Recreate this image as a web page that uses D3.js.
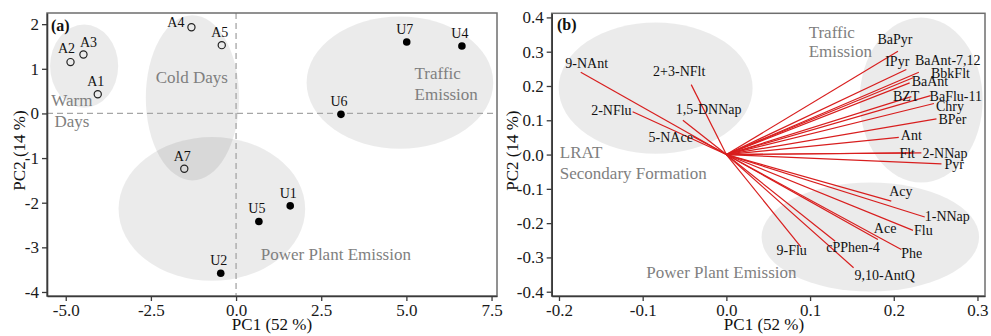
<!DOCTYPE html>
<html>
<head>
<meta charset="utf-8">
<script src="https://cdn.jsdelivr.net/npm/d3@7"></script>
<style>
  html, body { margin: 0; padding: 0; background: #fff; }
  svg { display: block; font-family: "Liberation Serif", "Times New Roman", serif; }
</style>
</head>
<body>
<div id="chart"></div>
<script>
// (a) sample scores
const scoreNames = ['A1', 'A2', 'A3', 'A4', 'A5', 'A7', 'U1', 'U2', 'U4', 'U5', 'U6', 'U7'];
const scorePC1 = [-4.06, -4.86, -4.48, -1.31, -0.42, -1.52, 1.59, -0.45, 6.63, 0.67, 3.08, 5.01];
const scorePC2 = [0.43, 1.15, 1.32, 1.93, 1.53, -1.24, -2.07, -3.58, 1.51, -2.42, -0.02, 1.60];

// (a) source regions (data units)
const regionNamesA = [['Warm', 'Days'], ['Cold Days'], ['Traffic', 'Emission'], ['Power Plant Emission']];
const regionCxA = [-4.46, -1.28, 4.81, -0.71];
const regionCyA = [1.06, 0.35, 0.69, -2.14];
const regionRxA = [1.0, 1.37, 2.74, 2.74];
const regionRyA = [0.93, 1.85, 1.48, 1.61];
const regionTextXA = [-4.82, -1.30, 5.24, 0.725];
const regionTextYA = [0.157, 0.687, 0.761, -3.29];

// (b) loadings
const loadNames = ['9-NAnt', '2-NFlu', '2+3-NFlt', '1,5-DNNap', '5-NAce',
  'BaPyr', 'IPyr', 'BaAnt-7,12', 'BbkFlt', 'BaAnt', 'BZT', 'BaFlu-11', 'Chry', 'BPer',
  'Ant', 'Flt', '2-NNap', 'Pyr',
  'Acy', '1-NNap', 'Flu', 'Ace', 'Phe', '9,10-AntQ', 'cPPhen-4', '9-Flu'];
const loadPC1 = [-0.174, -0.112, -0.042, -0.052, -0.040,
  0.205, 0.215, 0.230, 0.223, 0.219, 0.221, 0.244, 0.248, 0.251,
  0.206, 0.223, 0.233, 0.257,
  0.197, 0.237, 0.223, 0.181, 0.209, 0.152, 0.130, 0.089];
const loadPC2 = [0.240, 0.125, 0.204, 0.100, 0.053,
  0.301, 0.248, 0.240, 0.224, 0.209, 0.169, 0.172, 0.149, 0.104,
  0.050, 0.005, 0.005, -0.027,
  -0.136, -0.182, -0.221, -0.248, -0.277, -0.330, -0.253, -0.269];

// (b) source regions
const regionNamesB = [['LRAT', 'Secondary Formation'], ['Traffic', 'Emission'], ['Power Plant Emission']];
const regionCxB = [-0.0845, 0.2327, 0.172];
const regionCyB = [0.194, 0.159, -0.2405];
const regionRxB = [0.1159, 0.0735, 0.130];
const regionRyB = [0.1915, 0.2405, 0.159];
const regionTextXB = [-0.199, 0.0983, -0.0956];
const regionTextYB = [-0.0096, 0.341, -0.359];

const ticksXA = [-5, -2.5, 0, 2.5, 5, 7.5];
const ticksYA = [-4, -3, -2, -1, 0, 1, 2];
const ticksXB = [-0.2, -0.1, 0.0, 0.1, 0.2, 0.3];
const ticksYB = [-0.4, -0.3, -0.2, -0.1, 0.0, 0.1, 0.2, 0.3, 0.4];

// label nudges in px: [dx, dy, anchor]
const scoreNudge = {
  A2: [-4, -9, 'middle'], A3: [5, -8, 'middle'], A4: [-7, 0, 'end']
};
const loadNudge = {
  '9-NAnt': [6, -4, 'middle'], '2-NFlu': [-1, 3, 'end'], '2+3-NFlt': [-12, -9, 'middle'],
  '1,5-DNNap': [-7, -6, 'start'], '5-NAce': [0, 6, 'end'],
  'BaPyr': [-3, -7, 'middle'], 'IPyr': [3, -4, 'end'], 'BaAnt-7,12': [-4, -7, 'start'],
  'BbkFlt': [18, 0, 'start'], 'BaAnt': [2, 3, 'start'], 'BZT': [8, 4, 'end'],
  'BaFlu-11': [-1, 5, 'start'], 'Chry': [2, 8, 'start'], 'BPer': [2, 5, 'start'],
  'Ant': [2, 3, 'start'], 'Flt': [2, 5, 'end'], '2-NNap': [1, 5, 'start'], 'Pyr': [3, 5, 'start'],
  'Acy': [-2, -5, 'start'], '1-NNap': [0, 4, 'start'], 'Flu': [1, 5, 'start'],
  'Ace': [-4, -7, 'start'], 'Phe': [0, 8, 'start'], '9,10-AntQ': [1, 12, 'start'],
  'cPPhen-4': [-9, 11, 'start'], '9-Flu': [6, 8, 'end']
};

const width = 991, height = 336;
const svg = d3.select('#chart').append('svg').attr('width', width).attr('height', height);

const xA = d3.scaleLinear().domain([-5.55, 7.66]).range([47, 497]);
const yA = d3.scaleLinear().domain([-4.09, 2.25]).range([296, 13]);
const xB = d3.scaleLinear().domain([-0.2087, 0.309]).range([551.7, 985]);
const yB = d3.scaleLinear().domain([-0.4125, 0.412]).range([296, 13.3]);

const regionFill = 'rgba(0,0,0,0.08)';
const regionText = '#7f7f7f';

function frame(x, y) {
  svg.append('rect')
    .attr('x', x.range()[0]).attr('y', y.range()[1])
    .attr('width', x.range()[1] - x.range()[0])
    .attr('height', y.range()[0] - y.range()[1])
    .attr('fill', 'none').attr('stroke', '#6e6e6e').attr('stroke-width', 1.5);
}

function axes(x, y, tx, ty, fx, fy) {
  const gx = svg.append('g').attr('transform', `translate(0,${y.range()[0]})`)
    .call(d3.axisBottom(x).tickValues(tx).tickFormat(fx).tickSize(5).tickSizeOuter(0).tickPadding(3));
  const gy = svg.append('g').attr('transform', `translate(${x.range()[0]},0)`)
    .call(d3.axisLeft(y).tickValues(ty).tickFormat(fy).tickSize(5).tickSizeOuter(0).tickPadding(3));
  [gx, gy].forEach(g => {
    g.attr('font-family', null).attr('font-size', null);
    g.select('.domain').attr('stroke', '#3a3a3a').attr('stroke-width', 1.6);
    g.selectAll('.tick line').attr('stroke', '#3a3a3a').attr('stroke-width', 1.3);
    g.selectAll('.tick text').attr('fill', '#1a1a1a').style('font-size', '17px');
  });
}

function regions(x, y, cx, cy, rx, ry) {
  svg.append('g').selectAll('ellipse')
    .data(cx.map((d, i) => i))
    .enter().append('ellipse')
    .attr('cx', i => x(cx[i]))
    .attr('cy', i => y(cy[i]))
    .attr('rx', i => x(cx[i] + rx[i]) - x(cx[i]))
    .attr('ry', i => y(cy[i] - ry[i]) - y(cy[i]))
    .attr('fill', regionFill);
}

function regionLabels(x, y, names, tx, ty, anchors, gap) {
  names.forEach((lines, i) => {
    const t = svg.append('text')
      .attr('x', x(tx[i])).attr('y', y(ty[i]))
      .attr('text-anchor', anchors[i])
      .attr('fill', regionText).style('font-size', '17px');
    lines.forEach((l, j) => {
      t.append('tspan').attr('x', x(tx[i])).attr('dy', j === 0 ? 0 : gap[i]).text(l);
    });
  });
}

// ---------- panel (a) ----------
regions(xA, yA, regionCxA, regionCyA, regionRxA, regionRyA);

svg.append('line')
  .attr('x1', xA.range()[0]).attr('x2', xA.range()[1])
  .attr('y1', yA(0)).attr('y2', yA(0))
  .attr('stroke', '#a6a6a6').attr('stroke-width', 1.3).attr('stroke-dasharray', '6,4');
svg.append('line')
  .attr('x1', xA(0)).attr('x2', xA(0))
  .attr('y1', yA.range()[1]).attr('y2', yA.range()[0])
  .attr('stroke', '#a6a6a6').attr('stroke-width', 1.3).attr('stroke-dasharray', '6,4');

regionLabels(xA, yA, regionNamesA, regionTextXA, regionTextYA,
  ['middle', 'middle', 'start', 'start'], [21, 0, 20.7, 0]);

frame(xA, yA);
axes(xA, yA, ticksXA, ticksYA, d => d.toFixed(1), d => String(d));

const pts = scoreNames.map((n, i) => ({ name: n, x: scorePC1[i], y: scorePC2[i] }));
svg.append('g').selectAll('circle')
  .data(pts).enter().append('circle')
  .attr('cx', d => xA(d.x)).attr('cy', d => yA(d.y))
  .attr('r', d => d.name[0] === 'A' ? 3.6 : 3.8)
  .attr('fill', d => d.name[0] === 'A' ? 'none' : '#000')
  .attr('stroke', d => d.name[0] === 'A' ? '#222' : 'none')
  .attr('stroke-width', 1.2);

svg.append('g').selectAll('text')
  .data(pts).enter().append('text')
  .attr('x', d => xA(d.x) + (scoreNudge[d.name] || [-2])[0])
  .attr('y', d => yA(d.y) + (scoreNudge[d.name] || [0, -8])[1])
  .attr('text-anchor', d => (scoreNudge[d.name] || [0, 0, 'middle'])[2])
  .attr('fill', '#111').style('font-size', '14px')
  .text(d => d.name);

svg.append('text').attr('x', 51).attr('y', 31)
  .attr('font-weight', 'bold').style('font-size', '16px').attr('fill', '#111').text('(a)');

svg.append('text').attr('x', d3.mean(xA.range())).attr('y', 330)
  .attr('text-anchor', 'middle').style('font-size', '17px').attr('fill', '#111').text('PC1 (52 %)');
svg.append('text').attr('transform', `translate(25,${d3.mean(yA.range()) - 4}) rotate(-90)`)
  .attr('text-anchor', 'middle').style('font-size', '17px').attr('fill', '#111').text('PC2 (14 %)');

// ---------- panel (b) ----------
regions(xB, yB, regionCxB, regionCyB, regionRxB, regionRyB);
regionLabels(xB, yB, regionNamesB, regionTextXB, regionTextYB,
  ['start', 'start', 'start'], [21, 19.5, 0]);

frame(xB, yB);
axes(xB, yB, ticksXB, ticksYB, d => d.toFixed(1), d => d.toFixed(1));

const loads = loadNames.map((n, i) => ({ name: n, x: loadPC1[i], y: loadPC2[i] }));
svg.append('g').selectAll('line')
  .data(loads).enter().append('line')
  .attr('x1', xB(0)).attr('y1', yB(0))
  .attr('x2', d => xB(d.x)).attr('y2', d => yB(d.y))
  .attr('stroke', '#d81e1e').attr('stroke-width', 1.2);

svg.append('g').selectAll('text')
  .data(loads).enter().append('text')
  .attr('x', d => xB(d.x) + loadNudge[d.name][0])
  .attr('y', d => yB(d.y) + loadNudge[d.name][1])
  .attr('text-anchor', d => loadNudge[d.name][2])
  .attr('fill', '#111').style('font-size', '14px')
  .text(d => d.name);

svg.append('text').attr('x', 557).attr('y', 30)
  .attr('font-weight', 'bold').style('font-size', '16px').attr('fill', '#111').text('(b)');

svg.append('text').attr('x', 764).attr('y', 330)
  .attr('text-anchor', 'middle').style('font-size', '17px').attr('fill', '#111').text('PC1 (52 %)');
svg.append('text').attr('transform', `translate(518,${d3.mean(yB.range()) - 4}) rotate(-90)`)
  .attr('text-anchor', 'middle').style('font-size', '17px').attr('fill', '#111').text('PC2 (14 %)');
</script>
</body>
</html>
